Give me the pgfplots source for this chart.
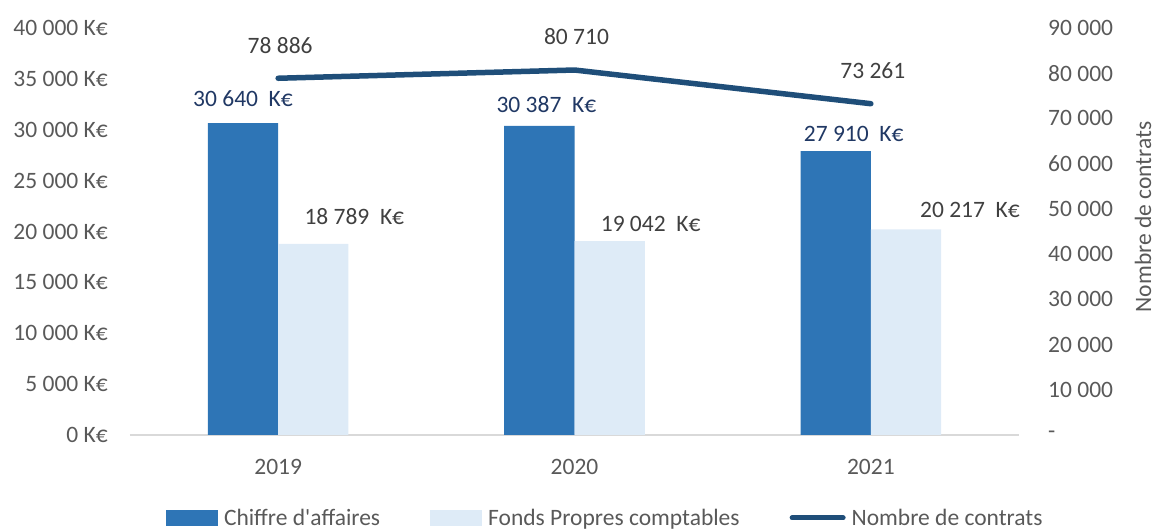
\documentclass[border=0pt]{standalone}
\usepackage{pgfplots}
\pgfplotsset{compat=1.18}
\usepackage{pgfplotstable}
\usepackage{fontspec}
\setmainfont{Carlito}
\definecolor{barA}{HTML}{2E75B6}
\definecolor{barB}{HTML}{DEEBF7}
\definecolor{lineC}{HTML}{1F4E79}
\definecolor{labA}{HTML}{203864}
\definecolor{labT}{HTML}{404040}
\definecolor{tickT}{HTML}{595959}
\definecolor{gridc}{HTML}{D9D9D9}

\pgfplotstableread[col sep=comma]{
x,y,dx,dy,label
0,30640,0,25,30 640~~K€
1,30387,7,21,30 387~~K€
2,27910,18,17,27 910~~K€
}\tabA
\pgfplotstableread[col sep=comma]{
x,y,dx,dy,label
0,18789,41,27,18 789~~K€
1,19042,41,17.5,19 042~~K€
2,20217,64,19,20 217~~K€
}\tabB
\pgfplotstableread[col sep=comma]{
x,y,label
0,78886,78 886
1,80710,80 710
2,73261,73 261
}\tabC

\begin{document}
\begin{tikzpicture}[font=\fontsize{23.5}{28}\selectfont]
\begin{axis}[name=ax, scale only axis, width=889pt, height=407pt,
  xmin=-0.5, xmax=2.5, ymin=0, ymax=40000,
  scaled y ticks=false, scaled x ticks=false,
  ybar=0pt, bar width=70.3pt,
  axis x line*=bottom, axis y line*=left,
  y axis line style={draw=none},
  x axis line style={draw=gridc, line width=1.3pt},
  major tick length=0pt, tick style={draw=none},
  xtick={0,1,2}, xticklabels={2019,2020,2021},
  ytick={0,5000,...,40000},
  yticklabels={0 K€,5 000 K€,10 000 K€,15 000 K€,20 000 K€,25 000 K€,30 000 K€,35 000 K€,40 000 K€},
  yticklabel style={inner sep=0pt, xshift=-22pt, text=tickT, anchor=east},
  xticklabel style={inner sep=0pt, yshift=-24.5pt, text=tickT, anchor=north},
  clip=false,
  point meta=explicit symbolic,
  nodes near coords,
  visualization depends on={\thisrow{dx} \as \dx},
  visualization depends on={\thisrow{dy} \as \dy},
  nodes near coords style={anchor=center, inner sep=0pt, xshift=\dx*1pt, yshift=\dy*1pt},
  legend columns=3,
  legend cell align=left,
  legend style={at={(0.0405,-0.2039)}, anchor=west, draw=none, fill=none,
    inner sep=0pt, outer sep=0pt, nodes={inner sep=0pt, text=tickT},
    /tikz/every odd column/.append style={column sep=6pt},
    /tikz/every even column/.append style={column sep=50pt}},
]
\addplot[fill=barA, draw=none, every node near coord/.append style={text=labA},
  legend image code/.code={\fill[barA] (0pt,-8pt) rectangle (52pt,8pt);}]
  table[x=x, y=y, meta=label] {\tabA};
\addlegendentry{Chiffre d\textquotesingle affaires}
\addplot[fill=barB, draw=none, every node near coord/.append style={text=labT},
  legend image code/.code={\fill[barB] (0pt,-8pt) rectangle (52pt,8pt);}]
  table[x=x, y=y, meta=label] {\tabB};
\addlegendentry{Fonds Propres comptables}
\addlegendimage{legend image code/.code={\draw[lineC, line width=5pt, line cap=round] (2.5pt,0pt) -- (53.5pt,0pt);}}
\addlegendentry{Nombre de contrats}
\end{axis}
\begin{axis}[scale only axis, width=889pt, height=407pt,
  xmin=-0.5, xmax=2.5, ymin=0, ymax=90000,
  scaled y ticks=false,
  axis x line=none, axis y line*=right,
  y axis line style={draw=none},
  major tick length=0pt, tick style={draw=none},
  ytick={0,10000,...,90000},
  yticklabels={-,10 000,20 000,30 000,40 000,50 000,60 000,70 000,80 000,90 000},
  yticklabel style={inner sep=0pt, xshift=29pt, anchor=west, text=tickT},
  every axis y label/.style={at={([xshift=124pt]rel axis cs:1,0.536)}, rotate=90, anchor=center, text=tickT},
  ylabel={Nombre de contrats},
  clip=false]
\addplot[lineC, line width=5.5pt, line cap=round, line join=round, mark=none,
  point meta=explicit symbolic, nodes near coords,
  nodes near coords style={anchor=center, inner sep=0pt, yshift=33pt, xshift=2pt, text=labT}]
  table[x=x, y=y, meta=label] {\tabC};
\end{axis}
\pgfresetboundingbox
\path[use as bounding box] ([xshift=-130pt,yshift=-94pt]ax.south west) rectangle ([xshift=1027pt,yshift=435pt]ax.south west);
\end{tikzpicture}
\end{document}
